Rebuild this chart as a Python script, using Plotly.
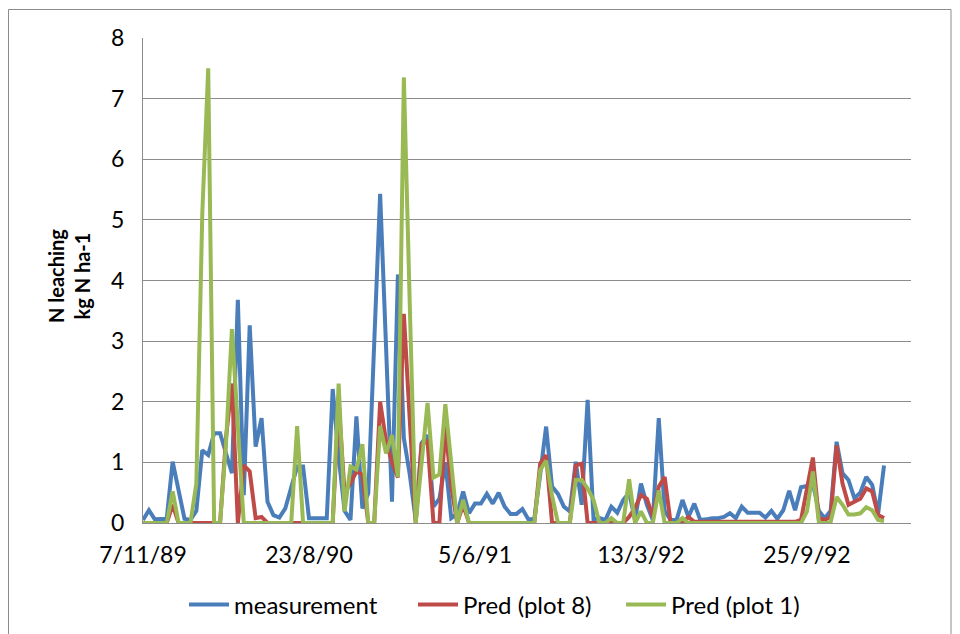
import plotly.graph_objects as go

tick_labels = ["7/11/89", "23/8/90", "5/6/91", "13/3/92", "25/9/92"]
tick_index = [0, 28, 56, 84, 112]

measurement = [
    0.05, 0.21, 0.06, 0.07, 0.07, 1.01, 0.5, 0.07, 0.05, 0.2,
    1.2, 1.12, 1.48, 1.48, 1.15, 0.82, 3.68, 0.46, 3.26, 1.26,
    1.73, 0.35, 0.13, 0.09, 0.24, 0.6, 0.93, 0.93, 0.08, 0.08,
    0.08, 0.08, 2.21, 1.1, 0.2, 0.05, 1.76, 0.24, 0.49, 2.9,
    5.43, 2.9, 0.35, 4.1, 1.4, 0.8, 0.05, 1.32, 1.45, 0.27,
    0.4, 1.0, 0.08, 0.15, 0.52, 0.16, 0.32, 0.32, 0.48, 0.32,
    0.5, 0.27, 0.15, 0.15, 0.23, 0.06, 0.06, 0.8, 1.59, 0.6,
    0.48, 0.27, 0.19, 1.01, 0.3, 2.03, 0.06, 0.08, 0.05, 0.27,
    0.17, 0.38, 0.5, 0.05, 0.65, 0.3, 0.05, 1.73, 0.2, 0.05,
    0.05, 0.38, 0.1, 0.32, 0.05, 0.06, 0.08, 0.08, 0.1, 0.16,
    0.08, 0.27, 0.17, 0.17, 0.17, 0.09, 0.2, 0.07, 0.21, 0.53,
    0.21, 0.59, 0.61, 0.65, 0.2, 0.08, 0.2, 1.34, 0.82, 0.71,
    0.41, 0.5, 0.76, 0.63, 0.15, 0.95,
]

pred_plot8 = [
    0, 0, 0, 0, 0, 0.3, 0, 0, 0, 0,
    0, 0, 0, 0, 1.4, 2.3, 0, 0.95, 0.85, 0.08,
    0.1, 0, 0, 0, 0, 0, 0, 0, 0, 0,
    0, 0, 0, 2.0, 0.5, 0.65, 0.85, 0.8, 0, 0,
    2.0, 1.35, 1.0, 0.75, 3.45, 1.7, 0, 1.3, 1.35, 0,
    0, 1.6, 0.6, 0, 0.3, 0, 0, 0, 0, 0,
    0, 0, 0, 0, 0, 0, 0, 0.98, 1.12, 0,
    0, 0, 0, 0.95, 0.98, 0, 0, 0, 0, 0,
    0, 0, 0.1, 0.25, 0.46, 0.4, 0.1, 0.6, 0.76, 0,
    0, 0, 0.1, 0.02, 0.02, 0.02, 0.02, 0.02, 0.02, 0.02,
    0.02, 0.02, 0.02, 0.02, 0.02, 0.02, 0.02, 0.02, 0.02, 0.02,
    0.02, 0.05, 0.55, 1.08, 0.08, 0.05, 0.1, 1.28, 0.65, 0.3,
    0.35, 0.4, 0.57, 0.52, 0.13, 0.08,
]

pred_plot1 = [
    0, 0, 0, 0, 0, 0.52, 0, 0, 0, 0.65,
    5.1, 7.5, 0, 0, 1.3, 3.2, 1.6, 0, 0, 0,
    0, 0, 0, 0, 0, 0, 1.6, 0, 0, 0,
    0, 0, 0, 2.3, 0.19, 0.93, 0.88, 1.3, 0, 0,
    1.6, 1.15, 1.45, 0.76, 7.35, 3.6, 0, 1.0, 1.98, 0.75,
    0.8, 1.96, 0.9, 0, 0.38, 0, 0, 0, 0, 0,
    0, 0, 0, 0, 0, 0, 0, 0.87, 1.03, 0.45,
    0, 0, 0, 0.71, 0.71, 0.57, 0.38, 0, 0, 0.08,
    0, 0, 0.72, 0, 0.19, 0, 0, 0.54, 0, 0,
    0, 0.08, 0, 0, 0, 0, 0, 0, 0, 0,
    0, 0, 0, 0, 0, 0, 0, 0, 0, 0,
    0, 0, 0.19, 0.85, 0.02, 0, 0.02, 0.43, 0.3, 0.14,
    0.14, 0.16, 0.26, 0.21, 0.05, 0.03,
]

x_index = list(range(len(measurement)))

series = [
    ("measurement", measurement, "#4A7EBB"),
    ("Pred (plot 8)", pred_plot8, "#BE4B48"),
    ("Pred (plot 1)", pred_plot1, "#98B954"),
]
legend_pads = [5, 4, 0]

fig = go.Figure()
for (name, vals, color), npad in zip(series, legend_pads):
    fig.add_trace(go.Scatter(
        x=x_index, y=vals, mode="lines", name=name + "\u00a0" * npad,
        line=dict(color=color, width=4),
    ))

font_family = "Lato, Carlito, Calibri, sans-serif"
grid_col = "#8C8C8C"

# page body adds an 8px offset; figure coordinates = screen - 8
OFF = 8
W, H = 960 - OFF, 634 - OFF
L, R, T, B = 143 - OFF, 911 - OFF, 38 - OFF, 523 - OFF
PW, PH = R - L, B - T

fig.update_layout(
    width=W, height=H,
    margin=dict(l=L, r=W - R, t=T, b=H - B, autoexpand=False),
    paper_bgcolor="white", plot_bgcolor="white",
    font=dict(family=font_family, size=23, color="black"),
    showlegend=True,
    legend=dict(orientation="h", x=(184 - 143) / PW, xanchor="left",
                yref="container", y=(H - (605 - OFF)) / H, yanchor="middle",
                font=dict(size=24), itemwidth=40, tracegroupgap=0,
                bgcolor="rgba(0,0,0,0)"),
    xaxis=dict(
        range=[0, 129.55], tickmode="array", tickvals=tick_index, ticktext=tick_labels,
        showgrid=False, zeroline=False, showline=True, linecolor=grid_col, linewidth=1,
        ticks="", ticklabelstandoff=11, automargin=False,
    ),
    yaxis=dict(
        range=[0, 8], dtick=1, showgrid=True, gridcolor=grid_col, gridwidth=1,
        zeroline=False, showline=True, linecolor=grid_col, linewidth=1,
        ticks="", ticklabelstandoff=13, automargin=False,
    ),
    annotations=[dict(
        text="<b>N leaching<br>kg N ha-1</b>", textangle=-90,
        xref="paper", yref="paper", x=(69 - 143) / PW, y=(523 - 276) / PH,
        xanchor="center", yanchor="middle", showarrow=False,
        font=dict(size=20, family=font_family, color="black"),
    )],
    shapes=[dict(type="rect", xref="paper", yref="paper",
                 x0=(8.5 - 143) / PW, x1=(951 - 143) / PW,
                 y0=(523 - 650) / PH, y1=(523 - 9.5) / PH,
                 line=dict(color="#8C8C8C", width=1), layer="below")],
)

fig.write_html("out.html")
